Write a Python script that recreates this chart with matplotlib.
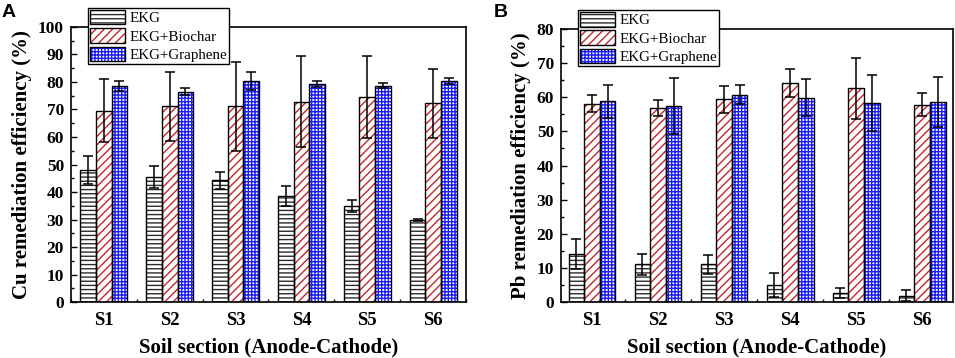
import numpy as np
import matplotlib
matplotlib.use("Agg")
import matplotlib.pyplot as plt
from matplotlib.patches import Patch
from matplotlib.ticker import MultipleLocator

sections = ["S1", "S2", "S3", "S4", "S5", "S6"]
series = ["EKG", "EKG+Biochar", "EKG+Graphene"]

# Cu remediation efficiency (%) and error
cu_ekg = [48.0, 45.5, 44.3, 38.5, 34.9, 29.8]
cu_ekg_err = [5.2, 4.0, 3.1, 3.6, 2.3, 0.3]
cu_bio = [69.5, 71.1, 71.1, 72.9, 74.5, 72.2]
cu_bio_err = [11.5, 12.6, 16.1, 16.4, 14.9, 12.4]
cu_gra = [78.7, 76.5, 80.4, 79.3, 78.7, 80.4]
cu_gra_err = [1.8, 1.2, 3.4, 1.2, 0.8, 1.2]

# Pb remediation efficiency (%) and error
pb_ekg = [14.1, 11.0, 11.0, 5.0, 2.6, 1.9]
pb_ekg_err = [4.4, 3.2, 2.7, 3.6, 1.5, 1.6]
pb_bio = [58.1, 56.8, 59.4, 64.3, 62.6, 57.8]
pb_bio_err = [2.5, 2.3, 3.9, 4.1, 9.0, 3.4]
pb_gra = [58.8, 57.4, 60.8, 59.9, 58.3, 58.5]
pb_gra_err = [4.8, 8.1, 2.8, 5.4, 8.2, 7.3]

plt.rcParams['font.family'] = ['Liberation Serif', 'DejaVu Serif']
plt.rcParams['hatch.linewidth'] = 1.0

RED = '#c4262b'
BLUE = '#1a1aff'
GREY = '#2b2b2b'
styles = [(GREY, '----'), (RED, '////'), (BLUE, '+++++')]

fig = plt.figure(figsize=(9.55, 3.58), dpi=100)
axA = fig.add_axes([0.0743, 0.1564, 0.4137, 0.7682])
axB = fig.add_axes([0.5874, 0.1564, 0.4106, 0.7626])

x = np.arange(1, len(sections) + 1)
w = 0.237


def draw(ax, vals, errs, ylim, ystep, ylabel, xlim):
    for i, (v, e) in enumerate(zip(vals, errs)):
        col, hat = styles[i]
        pos = x + (i - 1) * w
        ax.bar(pos, v, w, color='white', edgecolor=col, hatch=hat,
               linewidth=0, zorder=2)
        ax.bar(pos, v, w, fill=False, edgecolor='black', linewidth=1.0,
               zorder=3)
        ax.errorbar(pos, v, yerr=e, fmt='none', ecolor='black',
                    elinewidth=1.1, capsize=3.4, capthick=1.1, zorder=4)
    ax.set_xlim(*xlim)
    ax.set_ylim(*ylim)
    ax.set_xticks(x)
    ax.set_xticklabels(sections)
    ax.xaxis.set_minor_locator(MultipleLocator(0.5))
    ax.yaxis.set_major_locator(MultipleLocator(ystep))
    ax.yaxis.set_minor_locator(MultipleLocator(ystep / 2))
    ax.tick_params(axis='both', which='both', direction='in', top=False,
                   right=False, width=1.0, zorder=5)
    ax.tick_params(axis='both', which='major', length=4.5)
    ax.tick_params(axis='both', which='minor', length=2.5)
    ax.tick_params(axis='x', which='major', pad=7, labelsize=13.5)
    ax.tick_params(axis='y', which='major', pad=5, labelsize=12.5)
    for lab in ax.get_xticklabels() + ax.get_yticklabels():
        lab.set_fontweight('bold')
    for sp in ax.spines.values():
        sp.set_linewidth(1.2)
    ax.set_xlabel('Soil section (Anode-Cathode)', fontsize=15,
                  fontweight='bold', labelpad=6)
    ax.set_ylabel(ylabel, fontsize=15, fontweight='bold', labelpad=4)

    handles = []
    for col, hat in styles:
        handles.append((Patch(facecolor='white', edgecolor=col, hatch=hat,
                              linewidth=0),
                        Patch(fill=False, edgecolor='black', linewidth=1.0)))
    leg = ax.legend(handles, series, loc='upper left',
                    bbox_to_anchor=(0.043, 1.07), borderaxespad=0,
                    fontsize=10.8, handlelength=2.3, handleheight=1.1,
                    labelspacing=0.2, handletextpad=0.3, borderpad=0.15,
                    fancybox=False, framealpha=1, edgecolor='black')
    leg.get_frame().set_linewidth(1.0)
    leg.set_zorder(10)


draw(axA, [cu_ekg, cu_bio, cu_gra], [cu_ekg_err, cu_bio_err, cu_gra_err],
     (0, 100), 10, 'Cu remediation efficiency (%)', (0.5, 6.5))
draw(axB, [pb_ekg, pb_bio, pb_gra], [pb_ekg_err, pb_bio_err, pb_gra_err],
     (0, 80), 10, 'Pb remediation efficiency (%)', (0.53, 6.47))

fig.text(0.002, 0.988, 'A', family='Liberation Sans', fontweight='bold',
         fontsize=14, va='top', ha='left')
fig.text(0.517, 0.988, 'B', family='Liberation Sans', fontweight='bold',
         fontsize=14, va='top', ha='left')

fig.savefig('out.png', dpi=100)
